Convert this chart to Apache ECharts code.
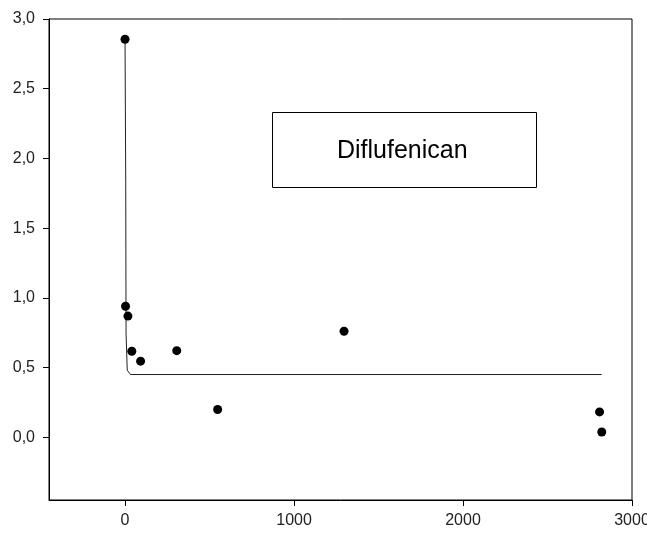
<!DOCTYPE html>
<html>
<head>
<meta charset="utf-8">
<script src="https://cdn.jsdelivr.net/npm/echarts@6/dist/echarts.min.js"></script>
<style>html,body{margin:0;padding:0;background:#fff}#c{width:647px;height:540px}</style>
</head>
<body>
<div id="c"></div>
<script>
// measured points (x, y)
const pointX = [0, 3, 17, 40, 92, 306, 548, 1296, 2808, 2821];
const pointY = [2.855, 0.94, 0.869, 0.617, 0.546, 0.621, 0.199, 0.76, 0.182, 0.038];
// fitted curve
const curveX = [0, 4, 6, 13, 32, 2821];
const curveY = [2.855, 1.83, 0.747, 0.481, 0.45, 0.45];
const xTicks = [0, 1000, 2000, 3000];
const yTicks = [0, 0.5, 1.0, 1.5, 2.0, 2.5, 3.0];
const labelText = 'Diflufenican';

const chart = echarts.init(document.getElementById('c'), null, {renderer: 'canvas'});
const tickFont = {fontFamily: 'Liberation Sans Narrow, Arial Narrow, Liberation Sans', fontSize: 16, color: '#222'};
chart.setOption({
  animation: false,
  backgroundColor: '#fff',
  grid: {left: 49, top: 19, right: 15, bottom: 40, outerBoundsMode: 'none', containLabel: false, show: true, borderColor: '#000', borderWidth: 1, backgroundColor: 'transparent'},
  xAxis: {
    type: 'value', min: -450, max: 3000,
    axisLine: {show: true, onZero: false, lineStyle: {color: '#000'}},
    splitLine: {show: false},
    axisTick: {show: true, length: 6, customValues: xTicks, lineStyle: {color: '#000'}},
    axisLabel: Object.assign({customValues: xTicks, margin: 13, formatter: v => String(v)}, tickFont)
  },
  yAxis: {
    type: 'value', min: -0.45, max: 3.0,
    axisLine: {show: true, onZero: false, lineStyle: {color: '#000'}},
    splitLine: {show: false},
    axisTick: {show: true, length: 6, customValues: yTicks, lineStyle: {color: '#000'}},
    axisLabel: Object.assign({customValues: yTicks, margin: 14, formatter: v => v.toFixed(1).replace('.', ',')}, tickFont)
  },
  series: [
    {
      type: 'line', data: curveX.map((x, i) => [x, curveY[i]]),
      showSymbol: false, symbol: 'none',
      lineStyle: {color: '#222', width: 1}, z: 2
    },
    {
      type: 'scatter', data: pointX.map((x, i) => [x, pointY[i]]),
      symbol: 'circle', symbolSize: 9,
      itemStyle: {color: '#000', opacity: 1}, z: 3
    }
  ],
  graphic: [
    {type: 'rect', left: 272, top: 112, shape: {width: 264, height: 75}, style: {fill: '#fff', stroke: '#000', lineWidth: 1}, z: 10},
    {type: 'text', left: 337, top: 139, style: {text: labelText, fill: '#000', font: '25px "Liberation Sans", Arial, sans-serif'}, z: 11}
  ]
});
</script>
</body>
</html>
